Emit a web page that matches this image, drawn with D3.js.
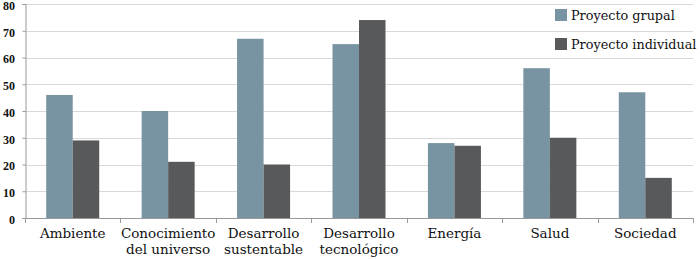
<!DOCTYPE html>
<html>
<head>
<meta charset="utf-8">
<script src="https://cdn.jsdelivr.net/npm/d3@7"></script>
<style>
  body { margin: 0; background: #fff; }
  text { font-family: "DejaVu Serif", serif; fill: #111; }
</style>
</head>
<body>
<div class="container"></div>
<script>
var categories = [
    ['Ambiente'],
    ['Conocimiento', 'del universo'],
    ['Desarrollo', 'sustentable'],
    ['Desarrollo', 'tecnológico'],
    ['Energía'],
    ['Salud'],
    ['Sociedad']
];
var seriesNames = ['Proyecto grupal', 'Proyecto individual'];
var grupal = [46, 40, 67, 65, 28, 56, 47];
var individual = [29, 21, 20, 74, 27, 30, 15];
var yTicks = [0, 10, 20, 30, 40, 50, 60, 70, 80];
var colors = ['#7893a1', '#58595b'];

var WIDTH = 700, HEIGHT = 259;
var plotLeft = 25, plotRight = 693, plotTop = 4, plotBottom = 218;

var translate = function (x, y) {
    return 'translate(' + x + ',' + y + ')';
};

var svg = d3.select('.container').append('svg')
    .attr('width', WIDTH)
    .attr('height', HEIGHT);

var x = d3.scaleBand().domain(d3.range(categories.length)).range([plotLeft, plotRight]);
var inner = d3.scaleBand().domain([0, 1]).range([0, 53]);
var y = d3.scaleLinear().domain([0, 80]).range([plotBottom, plotTop]);

// grid
svg.append('g')
    .selectAll('line')
    .data(yTicks.slice(1))
    .enter().append('line')
    .attr('x1', plotLeft).attr('x2', plotRight)
    .attr('y1', function (d) { return Math.round(y(d)) + 0.5; })
    .attr('y2', function (d) { return Math.round(y(d)) + 0.5; })
    .attr('stroke', '#d9d9d9');

// bars
var series = [grupal, individual];
series.forEach(function (vals, s) {
    svg.append('g')
        .selectAll('rect')
        .data(vals)
        .enter().append('rect')
        .attr('x', function (d, i) { return x(i) + (x.bandwidth() - 53) / 2 + inner(s); })
        .attr('y', function (d) { return y(d); })
        .attr('width', inner.bandwidth())
        .attr('height', function (d) { return y(0) - y(d); })
        .attr('fill', colors[s]);
});

// y axis
var yAxis = svg.append('g')
    .attr('transform', translate(plotLeft + 0.5, 0))
    .call(d3.axisLeft(y).tickValues(yTicks).tickSize(3).tickPadding(7.5));
yAxis.select('.domain').attr('stroke', '#999');
yAxis.selectAll('.tick line').attr('stroke', '#999');
yAxis.selectAll('.tick text')
    .attr('font-size', 12)
    .attr('font-weight', 'bold')
    .attr('fill', '#222')
    .attr('dy', '0.45em')
    .style('font-family', '"Liberation Serif", serif');

// x axis line and ticks
svg.append('line')
    .attr('x1', plotLeft).attr('x2', plotRight)
    .attr('y1', plotBottom + 0.5).attr('y2', plotBottom + 0.5)
    .attr('stroke', '#999');
svg.append('g')
    .selectAll('line')
    .data(d3.range(categories.length + 1))
    .enter().append('line')
    .attr('x1', function (d) { return Math.round(plotLeft + d * x.step()) + 0.5; })
    .attr('x2', function (d) { return Math.round(plotLeft + d * x.step()) + 0.5; })
    .attr('y1', plotBottom)
    .attr('y2', plotBottom + 5)
    .attr('stroke', '#999');

// category labels
var labels = svg.append('g')
    .selectAll('text')
    .data(categories)
    .enter().append('text')
    .attr('text-anchor', 'middle')
    .attr('font-size', 13.5)
    .attr('x', function (d, i) { return x(i) + x.bandwidth() / 2; })
    .attr('y', 238);
labels.selectAll('tspan')
    .data(function (d) { return d; })
    .enter().append('tspan')
    .attr('x', function () { return d3.select(this.parentNode).attr('x'); })
    .attr('dy', function (d, i) { return i === 0 ? 0 : 16; })
    .text(function (d) { return d; });

// legend
var legend = svg.append('g')
    .selectAll('g')
    .data(seriesNames)
    .enter().append('g')
    .attr('transform', function (d, i) { return translate(555, 9 + i * 29); });
legend.append('rect')
    .attr('width', 12).attr('height', 12)
    .attr('fill', function (d, i) { return colors[i]; });
legend.append('text')
    .attr('x', 16).attr('y', 11)
    .attr('font-size', 12.8)
    .text(function (d) { return d; });
</script>
</body>
</html>
